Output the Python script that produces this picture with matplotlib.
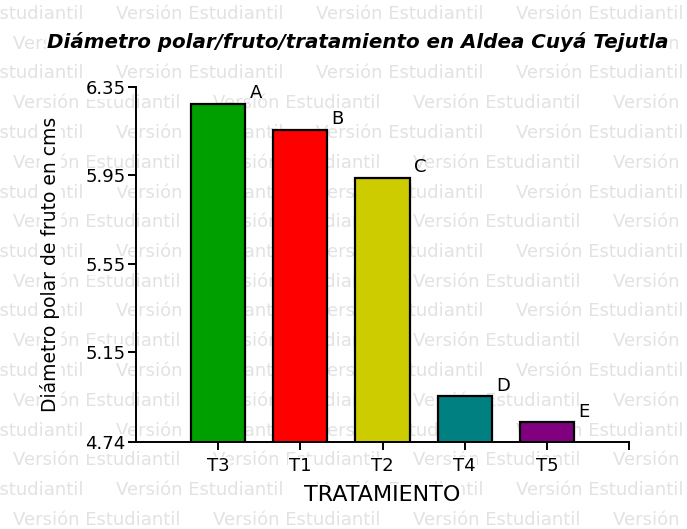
import matplotlib
matplotlib.use("Agg")
import matplotlib.pyplot as plt

# data
tratamientos = ["T3", "T1", "T2", "T4", "T5"]
diametro = [6.275, 6.157, 5.94, 4.948, 4.831]
letras = ["A", "B", "C", "D", "E"]
colores = ["#009f00", "#ff0000", "#cccc00", "#008080", "#800080"]
y_ticks = [4.74, 5.15, 5.55, 5.95, 6.35]

plt.rcParams["font.family"] = ["DejaVu Sans"]

W, H = 687, 529
fig = plt.figure(figsize=(W / 100, H / 100), dpi=100)

# student-version watermark behind everything
wm_color = "#e2e2e2"
for k in range(18):
    yc = 14 + 29.75 * k
    x0 = -84 if k % 2 == 0 else 13
    for j in range(5):
        fig.text((x0 + 200 * j) / W, 1 - yc / H, "Versión Estudiantil",
                 fontsize=13, color=wm_color, ha="left", va="center",
                 zorder=-5)

ax = fig.add_axes([136 / W, 1 - 442 / H, (629 - 136) / W, (442 - 87.3) / H])
ax.patch.set_alpha(0)

x = list(range(len(tratamientos)))
bars = ax.bar(x, diametro, width=0.66, color=colores, edgecolor="black",
              linewidth=1.6, zorder=3)

for xi, v, lab in zip(x, diametro, letras):
    ax.annotate(lab, (xi + 0.33, v), xytext=(3, 1), textcoords="offset points",
                ha="left", va="bottom", fontsize=13, zorder=4)

ax.set_xlim(-1, 5)
ax.set_ylim(4.74, 6.35)
ax.set_xticks(x + [5])
ax.set_xticklabels(tratamientos + [""])
ax.set_yticks(y_ticks)
ax.set_yticklabels([f"{t:.2f}" for t in y_ticks])

for s in ["top", "right"]:
    ax.spines[s].set_visible(False)
for s in ["left", "bottom"]:
    ax.spines[s].set_linewidth(1.4)
    ax.spines[s].set_zorder(5)
ax.tick_params(direction="out", length=6, width=1.4, labelsize=13)
ax.tick_params(axis="y", pad=1.5)
ax.tick_params(axis="x", pad=5)

for t in ax.get_xticklabels() + ax.get_yticklabels():
    t.set_bbox(dict(facecolor="white", edgecolor="none", pad=0.5))

ax.set_xlabel("TRATAMIENTO", fontsize=16, labelpad=7,
              bbox=dict(facecolor="white", edgecolor="none", pad=0.5))
ax.set_ylabel("Diámetro polar de fruto en cms", fontsize=13.5, labelpad=18,
              bbox=dict(facecolor="white", edgecolor="none", pad=0.5))

fig.text(358 / W, 1 - 42 / H, "Diámetro polar/fruto/tratamiento en Aldea Cuyá Tejutla",
         fontsize=14.3, fontweight="bold", fontstyle="italic", ha="center", va="center",
         bbox=dict(facecolor="white", edgecolor="none", pad=1))

fig.savefig("out.png", dpi=100)
